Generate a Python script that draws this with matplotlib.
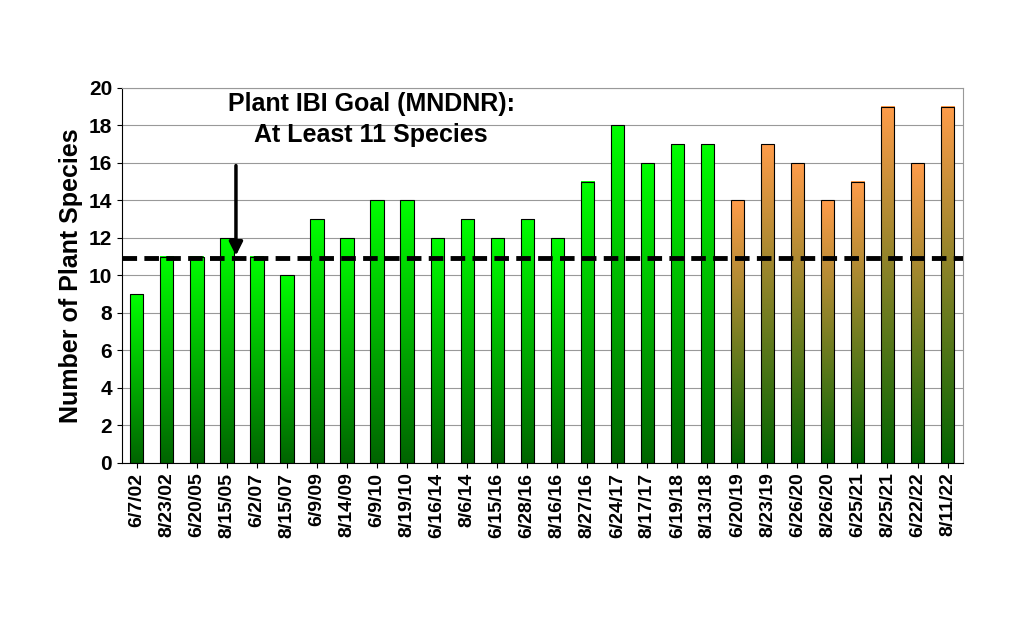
import matplotlib
matplotlib.use("Agg")
import matplotlib.pyplot as plt
import numpy as np
from matplotlib.colors import LinearSegmentedColormap
plt.rcParams["font.family"] = "Liberation Sans"

dates = ["6/7/02","8/23/02","6/20/05","8/15/05","6/2/07","8/15/07","6/9/09","8/14/09",
         "6/9/10","8/19/10","6/16/14","8/6/14","6/15/16","6/28/16","8/16/16","8/27/16",
         "6/24/17","8/17/17","6/19/18","8/13/18","6/20/19","8/23/19","6/26/20","8/26/20",
         "6/25/21","8/25/21","6/22/22","8/11/22"]
species = [9,11,11,12,11,10,13,12,14,14,12,13,12,13,12,15,18,16,17,17,14,17,16,14,15,19,16,19]
n_green = 20
goal = 10.9

fig = plt.figure(figsize=(10.24,6.41), dpi=100)
ax = fig.add_axes([0.119,0.278,0.821,0.585])
green = LinearSegmentedColormap.from_list("g", ["#006400","#00ff00"])
orange = LinearSegmentedColormap.from_list("o", ["#006400","#ff9c4a"])
w = 0.44
grad = np.linspace(0,1,256).reshape(-1,1)
for i,v in enumerate(species):
    cm = green if i < n_green else orange
    ax.imshow(grad, cmap=cm, origin="lower", aspect="auto",
              extent=(i-w/2, i+w/2, 0, v), zorder=2)
    ax.add_patch(plt.Rectangle((i-w/2,0), w, v, fill=False, ec="black", lw=0.8, zorder=3))
ax.set_xlim(-0.5, len(species)-0.5)
ax.set_ylim(0,20)
ax.set_yticks(range(0,21,2))
ax.yaxis.grid(True, color="#999999", lw=0.8, zorder=0)
ax.set_axisbelow(True)
ax.set_xticks(range(len(dates)))
ax.set_xticklabels(dates, rotation=90, fontsize=14, fontweight="bold")
for t in ax.get_yticklabels():
    t.set_fontsize(15); t.set_fontweight("bold")
ax.set_ylabel("Number of Plant Species", fontsize=18, fontweight="bold")
for s in ["top","right"]:
    ax.spines[s].set_color("#999999")
ax.axhline(goal, color="black", lw=3.5, ls=(0,(3,1.5)), zorder=4)
ax.text(7.8, 18.3, "Plant IBI Goal (MNDNR):\nAt Least 11 Species", ha="center", va="center",
        fontsize=18, fontweight="bold", linespacing=1.35)
ax.annotate("", xy=(3.3, 10.9), xytext=(3.3, 16.0),
            arrowprops=dict(arrowstyle="-|>", color="black", lw=2.5, mutation_scale=20), zorder=5)
fig.savefig("out.png", dpi=100)
